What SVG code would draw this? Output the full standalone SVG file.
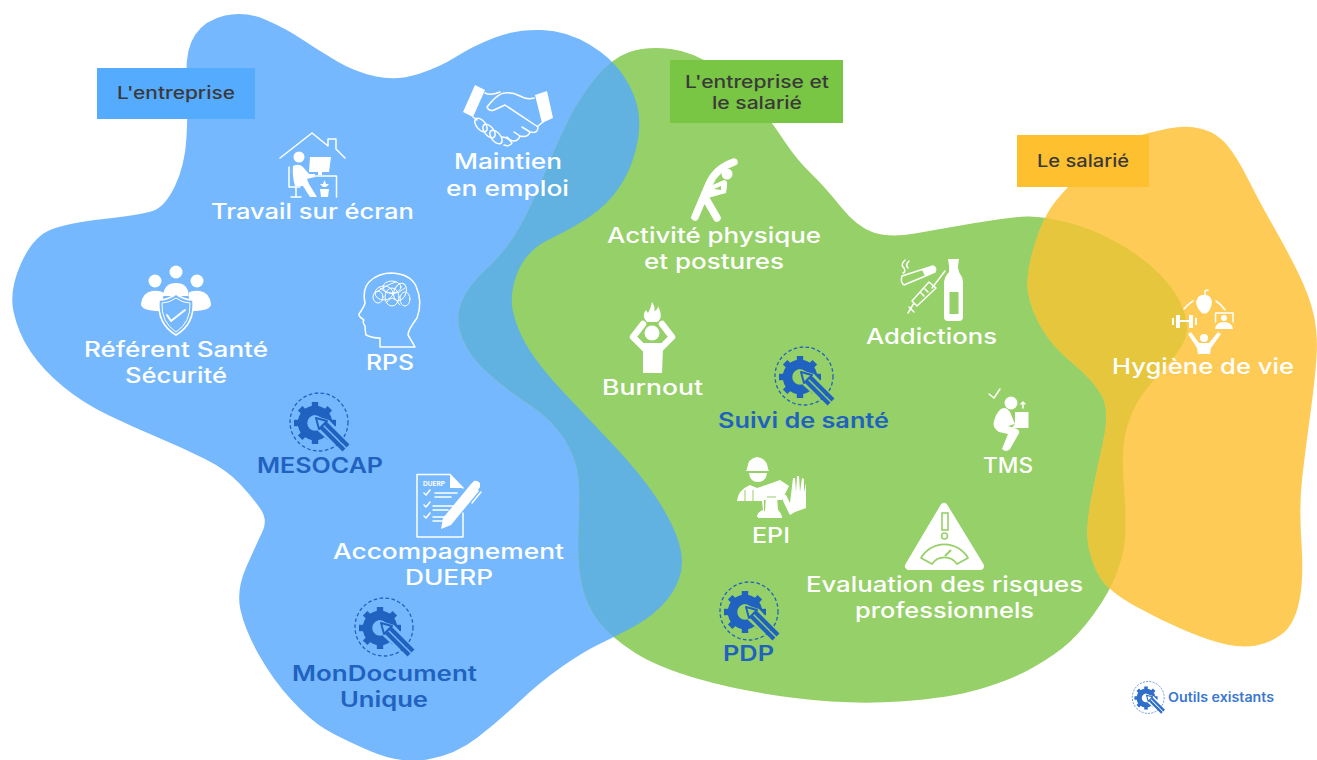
<svg xmlns="http://www.w3.org/2000/svg" width="1317" height="760" viewBox="0 0 1317 760">
<style>
text{font-family:"Inter","Open Sans","Liberation Sans",sans-serif;font-weight:500}
.w{fill:#fff;font-size:21px}
.b{fill:#1f62bf;font-size:21px;font-weight:600}
.h{fill:#3a3a3a;font-size:17px;font-weight:500}
.ln{fill:none;stroke:#fff;stroke-width:1.5;stroke-linecap:round;stroke-linejoin:round}
.fl{fill:#fff;stroke:none}
.th{fill:none;stroke:#fff;stroke-linecap:round;stroke-linejoin:round}
</style>
<defs>
<path id="pBlue" d="M225,15.5 Q245,11 265,19.5 Q285,28 301.5,39 Q318,50 336.5,61 Q355,72 376,76.5 Q397,81 418.5,74 Q440,67 456.5,56.5 Q473,46 495,37.5 Q517,29 542,30 Q567,31 589.5,44.5 Q612,58 624,76.5 Q636,95 638.5,112.5 Q641,130 635.5,151 Q630,172 618.5,188.5 Q607,205 590,216.5 Q573,228 550,239 Q527,250 518,271.5 Q509,293 513,311.5 Q517,330 528.5,348.5 Q540,367 561.5,390 Q583,413 611.5,443 Q640,473 656.5,498 Q673,523 679,543 Q685,563 679,579 Q673,595 660,607.5 Q647,620 629.5,629 Q612,638 597.5,645 Q583,652 561.5,667 Q540,682 520,701 Q500,720 477.5,737.5 Q455,755 427.5,759.5 Q400,764 370,751 Q340,738 325,729 Q310,720 291.5,700 Q273,680 259,655 Q245,630 240.5,610 Q236,590 246.5,566.5 Q257,543 262.5,531.5 Q268,520 260.5,509 Q253,498 240,484 Q227,470 205,459 Q183,448 158,437.5 Q133,427 108,415 Q83,403 63,386.5 Q43,370 30.5,351.5 Q18,333 13.5,311.5 Q9,290 21,263.5 Q33,237 50,230 Q67,223 103.5,219 Q140,215 152.5,211 Q165,207 175,186 Q185,165 186.5,137.5 Q188,110 186.5,80 Q185,50 195,35 Q205,20 225,15.5 Z"/>
<path id="pGreen" d="M629.5,52 Q647,46 671,49 Q695,52 717.5,68.5 Q740,85 756.5,104 Q773,123 785,142 Q797,160 811,173.5 Q825,187 841,207 Q857,227 873.5,232.5 Q890,238 915,233.5 Q940,229 975,223 Q1010,217 1026.5,216.5 Q1043,216 1068,222.5 Q1093,229 1118,243 Q1143,257 1160.5,275 Q1178,293 1184,311.5 Q1190,330 1183.5,342.5 Q1177,355 1165,367.5 Q1153,380 1143,393.5 Q1133,407 1127,427 Q1121,447 1123.5,480 Q1126,513 1125.5,531.5 Q1125,550 1117.5,571 Q1110,592 1093.5,614.5 Q1077,637 1062,648.5 Q1047,660 1028.5,670 Q1010,680 980,689 Q950,698 900,701.5 Q850,705 795,698 Q740,691 698.5,679 Q657,667 634.5,652.5 Q612,638 599.5,622.5 Q587,607 582,585 Q577,563 578.5,530 Q580,497 578.5,478.5 Q577,460 565,440 Q553,420 530,405 Q507,390 488.5,373.5 Q470,357 462.5,338.5 Q455,320 461,303.5 Q467,287 487,268.5 Q507,250 520,226.5 Q533,203 545,173 Q557,143 568.5,120 Q580,97 596,77.5 Q612,58 629.5,52 Z"/>
<path id="pYellow" d="M1168.5,128.5 Q1187,125 1202,129 Q1217,133 1227,145 Q1237,157 1248.5,180 Q1260,203 1273.5,226.5 Q1287,250 1298.5,273.5 Q1310,297 1314,316 Q1318,335 1316.5,357.5 Q1315,380 1310,416.5 Q1305,453 1302,480 Q1299,507 1301.5,543.5 Q1304,580 1299,602.5 Q1294,625 1282,634 Q1270,643 1256.5,645.5 Q1243,648 1226.5,644.5 Q1210,641 1185,630.5 Q1160,620 1135,606 Q1110,592 1101.5,579.5 Q1093,567 1089,548.5 Q1085,530 1091,500 Q1097,470 1103.5,440 Q1110,410 1101.5,395 Q1093,380 1073,363.5 Q1053,347 1042.5,329.5 Q1032,312 1028.5,294.5 Q1025,277 1034,247 Q1043,217 1055,202 Q1067,187 1088.5,166 Q1110,145 1130,138.5 Q1150,132 1168.5,128.5 Z"/>
<clipPath id="cGreen"><use href="#pGreen"/></clipPath>
<mask id="mGear" maskUnits="userSpaceOnUse" x="-30" y="-30" width="70" height="70">
<rect x="-30" y="-30" width="70" height="70" fill="#fff"/>
<path d="M-2,-8 L14,-3 L37,21 L28,31 L3,8 Z" fill="#000"/>
</mask>
<g id="tool">
<g mask="url(#mGear)">
<circle r="12.5" fill="none" stroke="currentColor" stroke-width="9.5"/>
<g fill="currentColor">
<rect x="-3.2" y="-21" width="6.4" height="6"/>
<rect x="-3.2" y="-21" width="6.4" height="6" transform="rotate(45)"/>
<rect x="-3.2" y="-21" width="6.4" height="6" transform="rotate(90)"/>
<rect x="-3.2" y="-21" width="6.4" height="6" transform="rotate(135)"/>
<rect x="-3.2" y="-21" width="6.4" height="6" transform="rotate(180)"/>
<rect x="-3.2" y="-21" width="6.4" height="6" transform="rotate(225)"/>
<rect x="-3.2" y="-21" width="6.4" height="6" transform="rotate(270)"/>
<rect x="-3.2" y="-21" width="6.4" height="6" transform="rotate(315)"/>
</g>
</g>
<path d="M1,-5 L12,-2 L4,6 Z" fill="none" stroke="currentColor" stroke-width="2" stroke-linejoin="round"/>
<path d="M10,0 L33,23 M6,4 L29,27" fill="none" stroke="currentColor" stroke-width="4.2"/>
<circle cx="4" cy="-1" r="29" fill="none" stroke="currentColor" stroke-width="1.3" stroke-dasharray="3.6 2.4"/>
</g>
</defs>

<g id="blobs">
<use href="#pBlue" fill="#76b8fe"/>
<use href="#pGreen" fill="#96d068"/>
<use href="#pBlue" fill="#61b2e0" clip-path="url(#cGreen)"/>
<use href="#pYellow" fill="#fecb57"/>
<use href="#pYellow" fill="#e6c63c" clip-path="url(#cGreen)"/>
</g>

<g id="label-entreprise">
<rect x="97" y="68" width="158" height="51" fill="#55abfe"/>
<text class="h" x="117" y="99" textLength="118" lengthAdjust="spacingAndGlyphs">L'entreprise</text>
</g>
<g id="label-entreprise-salarie">
<rect x="670" y="60" width="173" height="63" fill="#79c544"/>
<text class="h" x="685" y="88" textLength="144" lengthAdjust="spacingAndGlyphs">L'entreprise et</text>
<text class="h" x="712" y="109" textLength="90" lengthAdjust="spacingAndGlyphs">le salarié</text>
</g>
<g id="label-salarie">
<rect x="1017" y="135" width="132" height="52" fill="#ffc030"/>
<text class="h" x="1037" y="167" textLength="92" lengthAdjust="spacingAndGlyphs">Le salarié</text>
</g>

<g id="travail-ecran">
<path class="ln" d="M280,158 L312,133 L328,146 L328,139 L336,139 L336,149 L345,158"/>
<circle class="fl" cx="299" cy="157" r="5.5"/>
<path class="fl" d="M310,157 L331,157 L329,172 L322,172 L322,175 L318,175 L318,172 L309,172 Z"/>
<path class="ln" d="M306,176 L336.5,176 L336.5,197"/>
<path class="fl" d="M293,166 Q299,163 303,167 L309,174 L315,174 L315,177 L307,179 L309,184 L317,197 L310,197 L303,186 L295,186 Q292,176 293,166 Z"/>
<path class="ln" d="M289,167 L289,187 L300,187 M296,187 L296,197 M291,197 L301,197"/>
<path class="fl" d="M320,189 L329,189 L328,197 L321,197 Z M324.5,180 L326,184 L329,184 L326,187 L323,187 L320,184 L323,184 Z"/>
<text class="w" x="211" y="219" textLength="203" lengthAdjust="spacingAndGlyphs">Travail sur écran</text>
</g>

<g id="maintien-emploi">
<path class="fl" d="M475,85 L485,90 L473,117 L463,112 Z M535,95 L547,91 L553,118 L542,123 Z"/>
<path class="ln" d="M485,93 Q490,96 500,92 M534,98 Q527,100 520,96 Q512,92 505,93 Q498,93 487,107 Q489,112 494,110 L505,105 L538,127 Q538,134 530,132 L522,127 M530,132 Q528,138 520,136 L514,132 M520,136 Q518,143 510,140 L507,137 M543,122 L538,126 M473,117 L477,120"/>
<g class="ln"><ellipse cx="481" cy="125" rx="4.5" ry="8" transform="rotate(-40 481 125)"/><ellipse cx="489" cy="131" rx="4.5" ry="8" transform="rotate(-40 489 131)"/><ellipse cx="496" cy="137" rx="4.5" ry="8" transform="rotate(-40 496 137)"/><path d="M502,137 Q508,137 512,143 Q510,147 504,145"/></g>
<text class="w" x="454" y="169" textLength="108" lengthAdjust="spacingAndGlyphs">Maintien</text>
<text class="w" x="446" y="196" textLength="123" lengthAdjust="spacingAndGlyphs">en emploi</text>
</g>

<g id="referent-sante">
<circle class="fl" cx="176" cy="272" r="6.5"/><circle class="fl" cx="155" cy="281" r="6.5"/><circle class="fl" cx="197" cy="281" r="6.5"/>
<path class="fl" d="M141,304 Q142,293 152,291 Q160,290 164,293 L160,311 Q141,311 141,304 Z M211,304 Q210,293 200,291 Q192,290 188,293 L192,311 Q211,311 211,304 Z M163,296 Q164,283 176,283 Q188,283 189,296 Z"/>
<path d="M176,294 Q168,300 159,300 Q157,324 176,335 Q195,324 193,300 Q184,300 176,294 Z" fill="#76b8fe" stroke="#fff" stroke-width="1.6"/>
<path d="M176,298 Q169,303 162,303 Q161,322 176,332 Q191,322 190,303 Q183,303 176,298 Z" fill="none" stroke="#fff" stroke-width="1"/>
<path class="th" stroke-width="2" d="M167,315 L171,321 L185,310"/>
<text class="w" x="84" y="356.5" textLength="184" lengthAdjust="spacingAndGlyphs">Référent Santé</text>
<text class="w" x="125" y="382.5" textLength="102" lengthAdjust="spacingAndGlyphs">Sécurité</text>
</g>

<g id="rps">
<path class="ln" stroke-width="1.2" d="M380,347 L380,338 Q372,338 366,335 Q365,330 365,326 Q362,322 364,320 Q358,316 359,314 Q364,307 365,303 Q362,290 369,282 Q378,273 392,273 Q410,274 416,286 Q423,302 417,318 Q408,330 408,335 Q411,340 415,347 Z"/>
<g class="ln" style="stroke-width:1">
<ellipse cx="384" cy="293" rx="9" ry="7"/><ellipse cx="392" cy="287" rx="9" ry="6"/><ellipse cx="400" cy="292" rx="6" ry="9" transform="rotate(20 400 292)"/><ellipse cx="392" cy="297" rx="7" ry="9"/><ellipse cx="378" cy="297" rx="5" ry="6"/><ellipse cx="405" cy="299" rx="5" ry="7"/><path d="M380,288 Q392,300 405,288 M386,303 Q392,292 400,305 M375,293 Q388,284 396,282"/>
</g>
<text class="w" x="366" y="370" textLength="48" lengthAdjust="spacingAndGlyphs">RPS</text>
</g>

<g id="mesocap" color="#1f62bf">
<use href="#tool" x="315" y="423"/>
<text class="b" x="257" y="473" textLength="126" lengthAdjust="spacingAndGlyphs">MESOCAP</text>
</g>

<g id="duerp">
<path class="ln" d="M463,513 L463,537 L417,537 L417,474.5 L450,474.5 L463,488"/>
<path class="fl" d="M450,475 L463,488 L450,488 Z"/>
<text x="423" y="486" style="font-size:6.5px;font-weight:700;fill:#fff">DUERP</text>
<path class="ln" stroke-width="1.3" d="M424,493 L426,495 L430,490 M424,505 L426,507 L430,502 M424,516 L426,518 L430,513 M435,493 L457,493 M435,497 L451,497 M433,506 L453,506 M433,510 L448,510 M433,517 L445,517 M433,521 L443,521"/>
<path class="fl" d="M441,529 L443,518 L471,484 L479,491 L451,525 Z M471,484 L474,481 Q477,480 480,483 L480,487 L478,490 Z"/>
<path class="ln" d="M481,492 L472,503"/>
<text class="w" x="333" y="558.5" textLength="231" lengthAdjust="spacingAndGlyphs">Accompagnement</text>
<text class="w" x="405" y="584.5" textLength="88" lengthAdjust="spacingAndGlyphs">DUERP</text>
</g>

<g id="mondocument" color="#1f62bf">
<use href="#tool" x="380" y="628"/>
<text class="b" x="292" y="681" textLength="185" lengthAdjust="spacingAndGlyphs">MonDocument</text>
<text class="b" x="340" y="707" textLength="88" lengthAdjust="spacingAndGlyphs">Unique</text>
</g>

<g id="activite-physique">
<circle class="fl" cx="727" cy="174" r="5.5"/>
<path class="th" stroke-width="7.5" d="M695,217 Q703,198 709,184 Q716,168 734,162 M717,218 L706,199"/>
<path class="fl" d="M708,187 L724,180 Q728,180 727,186 L726,193 L708,198 L704,196 Z"/>
<path d="M714,189 L721,186 L721,190 Z" fill="#96d068"/>
<text class="w" x="607" y="243" textLength="214" lengthAdjust="spacingAndGlyphs">Activité physique</text>
<text class="w" x="644" y="269" textLength="140" lengthAdjust="spacingAndGlyphs">et postures</text>
</g>

<g id="addictions">
<path class="ln" stroke-width="1.4" d="M902,276 L933,266 Q937,268 935,272 L904,285 Q900,282 902,276 Z"/>
<path class="fl" d="M922,270 L933,266 Q937,268 935,272 L925,276 Z"/>
<path class="ln" stroke-width="1" d="M905,260 Q900,265 904,268 Q906,272 903,273 M909,261 Q905,265 908,268"/>
<path class="ln" stroke-width="1.2" d="M945,271 L932,288 M936,288 L917,306 L912,301 L929,282 Z M909,307 L914,312 M914,303 L908,313 M924,296 L921,293 M928,292 L925,289"/>
<path class="fl" d="M948,259 L959,259 L958,266 Q958,272 962,277 L963,282 L963,317 Q963,321 959,321 L948,321 Q944,321 944,317 L944,282 Q945,276 949,272 L949,266 Z"/>
<rect x="949.5" y="292" width="9" height="22" fill="#96d068"/>
<text class="w" x="866" y="344" textLength="131" lengthAdjust="spacingAndGlyphs">Addictions</text>
</g>

<g id="burnout">
<path class="fl" d="M652,302 Q656,308 654,311 Q658,310 658,306 Q664,318 657,322 L647,322 Q641,316 646,310 L648,313 Q651,308 652,302 Z"/>
<circle class="fl" cx="652" cy="333" r="7.5"/>
<path class="th" stroke-width="6.5" d="M643,324 L633,337 L648,352 M662,324 L672,337 L657,352"/>
<path class="fl" d="M644,343 L661,343 L663,348 L662,373 L643,373 L643,348 Z"/>
<text class="w" x="602" y="395" textLength="101" lengthAdjust="spacingAndGlyphs">Burnout</text>
</g>

<g id="suivi-sante" color="#1f62bf">
<use href="#tool" x="800" y="377"/>
<text class="b" x="718" y="428" textLength="171" lengthAdjust="spacingAndGlyphs">Suivi de santé</text>
</g>

<g id="tms">
<path class="ln" d="M989,394 L994,398 L1000,389"/>
<circle class="fl" cx="1011" cy="403" r="6.5"/>
<path class="ln" stroke-width="1" d="M1023,408 L1023,402 M1021,404 L1023,402 L1025,404"/>
<path class="fl" d="M1015,412 L1028.5,412 L1028.5,428 L1012,428 L1015,424 Z"/>
<path class="fl" d="M1001,409 Q1006,406 1010,412 L1015,424 L1008,426 L1017,429 Q1021,431 1018,435 L1010,449 Q1006,453 1002,449 L1008,434 L999,432 Q992,428 994,421 Q996,413 1001,409 Z"/>
<text class="w" x="983" y="473" textLength="50" lengthAdjust="spacingAndGlyphs">TMS</text>
</g>

<g id="epi">
<path class="fl" d="M747,469 Q748,458 757,457 Q767,458 768,469 L769,471 L746,471 Z"/>
<path class="fl" d="M749,473 L767,473 Q766,482 758,482 Q750,482 749,473 Z"/>
<path class="fl" d="M737,501 Q738,490 750,485 L757,488 L766,485 L780,480 L789,486 L782,500 L764,500 L764,517 L757,517 Q757,512 763,510 L762,501 Z"/>
<path d="M745,490 L745,501 M753,490 L753,501" stroke="#96d068" stroke-width="1" fill="none"/>
<path class="fl" d="M766,496 L777,496 L778,510 Q782,514 782,518 L758,518 Q758,513 765,511 Z"/>
<path d="M767,497 L776,497" stroke="#96d068" stroke-width="1"/>
<path class="fl" d="M781,495 L786,495 L790,503 L793,478 L795,478 L796,492 L797,476 L799,476 L800,492 L802,478 L804,479 L804,492 L806,483 L806,508 L795,512 L790,515 Q782,500 781,495 Z"/>
<text class="w" x="752" y="543" textLength="38" lengthAdjust="spacingAndGlyphs">EPI</text>
</g>

<g id="evaluation-risques">
<path d="M944,507 L909,566 L980,566 Z" fill="#fff" stroke="#fff" stroke-width="8" stroke-linejoin="round"/>
<rect x="942" y="513" width="6" height="17" fill="none" stroke="#96d068" stroke-width="1.6"/>
<circle cx="944.5" cy="536" r="3" fill="none" stroke="#96d068" stroke-width="1.6"/>
<path d="M921,558 A27,27 0 0 1 968,558 L957,564 A15,15 0 0 0 932,564 Z" fill="none" stroke="#96d068" stroke-width="1.8" stroke-linejoin="round"/>
<path d="M945,556 L951,550" stroke="#96d068" stroke-width="2"/>
<text class="w" x="806" y="591.5" textLength="277" lengthAdjust="spacingAndGlyphs">Evaluation des risques</text>
<text class="w" x="855" y="617.5" textLength="179" lengthAdjust="spacingAndGlyphs">professionnels</text>
</g>

<g id="pdp" color="#1f62bf">
<use href="#tool" x="745" y="612"/>
<text class="b" x="723" y="661" textLength="51" lengthAdjust="spacingAndGlyphs">PDP</text>
</g>

<g id="hygiene-vie">
<path class="fl" d="M1204,295 Q1211,294 1212,302 Q1211,310 1207,313 Q1204,314 1202,313 Q1197,309 1196,302 Q1198,294 1204,295 Z"/>
<path class="ln" d="M1205,295 L1205,291 L1208,290 M1184,309 Q1188,304 1193,301 M1216,301 Q1221,304 1225,310"/>
<path class="fl" d="M1172,318 L1174,318 L1174,325 L1172,325 Z M1176,315 L1180,315 L1180,320 L1189,320 L1189,315 L1193,315 L1193,328 L1189,328 L1189,322 L1180,322 L1180,328 L1176,328 Z M1195,318 L1197,318 L1197,325 L1195,325 Z"/>
<path class="ln" d="M1215.5,313 L1233,313 L1233,322 M1215.5,313 L1215.5,322"/>
<circle class="fl" cx="1224" cy="318" r="3"/>
<path class="fl" d="M1215,329 Q1216,322 1224,322 Q1232,322 1233,329 Z"/>
<circle class="fl" cx="1204" cy="338" r="4"/>
<path class="fl" d="M1188,334 L1191,332 L1199,343 L1209,343 L1218,332 L1221,334 L1211,348 L1210,354 L1198,354 L1197,348 Z"/>
<text class="w" x="1112" y="374" textLength="182" lengthAdjust="spacingAndGlyphs">Hygiène de vie</text>
</g>

<g id="legende" color="#2f6fc9">
<use href="#tool" transform="translate(1146,698) scale(.55)"/>
<text x="1168" y="702" textLength="106" lengthAdjust="spacingAndGlyphs" style="fill:#3a78d0;font-size:13px;font-weight:600">Outils existants</text>
</g>
</svg>
